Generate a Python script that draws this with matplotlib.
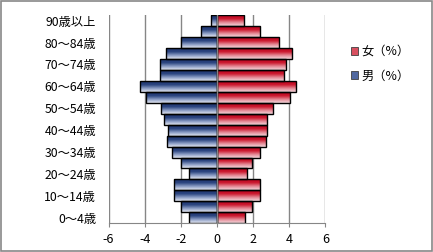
import numpy as np
import matplotlib
matplotlib.use('Agg')
import matplotlib.pyplot as plt
from matplotlib.colors import LinearSegmentedColormap
from matplotlib.patches import Rectangle, Patch

plt.rcParams['font.family'] = ['Noto Sans CJK JP', 'DejaVu Sans']
plt.rcParams['axes.unicode_minus'] = False

# age groups, bottom to top
ages = ['0～4歳', '5～9歳', '10～14歳', '15～19歳', '20～24歳', '25～29歳',
        '30～34歳', '35～39歳', '40～44歳', '45～49歳', '50～54歳', '55～59歳',
        '60～64歳', '65～69歳', '70～74歳', '75～79歳', '80～84歳', '85～89歳',
        '90歳以上']
male = [-1.57, -2.01, -2.40, -2.40, -1.57, -2.01, -2.49, -2.79, -2.73, -2.95,
        -3.12, -3.91, -4.28, -3.17, -3.17, -2.80, -1.97, -0.90, -0.33]
female = [1.58, 1.94, 2.36, 2.36, 1.64, 1.94, 2.41, 2.74, 2.80, 2.80,
          3.13, 4.02, 4.35, 3.74, 3.85, 4.13, 3.41, 2.41, 1.49]
xticks = [-6, -4, -2, 0, 2, 4, 6]

blue_cmap = LinearSegmentedColormap.from_list('b', ['#e4e8f2', '#8a9cc4', '#2c4580', '#1e3570'])
red_cmap = LinearSegmentedColormap.from_list('r', ['#f4d8dc', '#e48894', '#cc1a30', '#b8001c'])

fig = plt.figure(figsize=(4.33, 2.52), dpi=100)
ax = fig.add_axes([0.2506, 0.114, 0.5007, 0.826])

y = np.arange(len(ages))
grad = np.linspace(0, 1, 64).reshape(-1, 1)

def gradient_bars(vals, cmap, mid):
    bars = ax.barh(y, vals, height=1.0, color=mid, edgecolor='black',
                   linewidth=1.0, zorder=3)
    for b in bars:
        x0, y0 = b.get_x(), b.get_y()
        x1, y1 = x0 + b.get_width(), y0 + b.get_height()
        ax.imshow(grad, extent=[min(x0, x1), max(x0, x1), y0, y1],
                  origin='lower', cmap=cmap, aspect='auto', zorder=3.5)
        b.set_facecolor('none')
        b.set_zorder(4)
    return bars

gradient_bars(female, red_cmap, '#d85060')
gradient_bars(male, blue_cmap, '#5068a0')

ax.set_xlim(-6, 6)
ax.set_ylim(-0.5, len(ages) - 0.5)
ax.set_xticks(xticks)
ax.set_xticklabels([str(t) for t in xticks])
ax.set_yticks(y[::2])
ax.set_yticklabels(ages[::2])
ax.grid(axis='x', color='#868686', linewidth=1.0, zorder=1)
ax.set_axisbelow(True)
ax.axvline(0, color='#868686', linewidth=1.0, zorder=5)
for s in ['top', 'right', 'left']:
    ax.spines[s].set_visible(False)
ax.spines['bottom'].set_color('#868686')
ax.tick_params(axis='x', length=3, color='#868686', labelsize=9, pad=4)
ax.tick_params(axis='y', length=0, labelsize=8.8, pad=9)

handles = [Patch(facecolor='#d85060', edgecolor='#404040', linewidth=0.6),
           Patch(facecolor='#5068a0', edgecolor='#404040', linewidth=0.6)]
fig.legend(handles, ['女（%）', '男（%）'], loc='upper left',
           bbox_to_anchor=(0.785, 0.865), frameon=False, fontsize=8.8,
           handlelength=0.6, handleheight=0.6, handletextpad=0.25,
           labelspacing=0.95)

fig.patches.append(Rectangle((0.002, 0.004), 0.995, 0.992, transform=fig.transFigure,
                             fill=False, edgecolor='#888888', linewidth=1.2))

fig.savefig('out.png', dpi=100)
